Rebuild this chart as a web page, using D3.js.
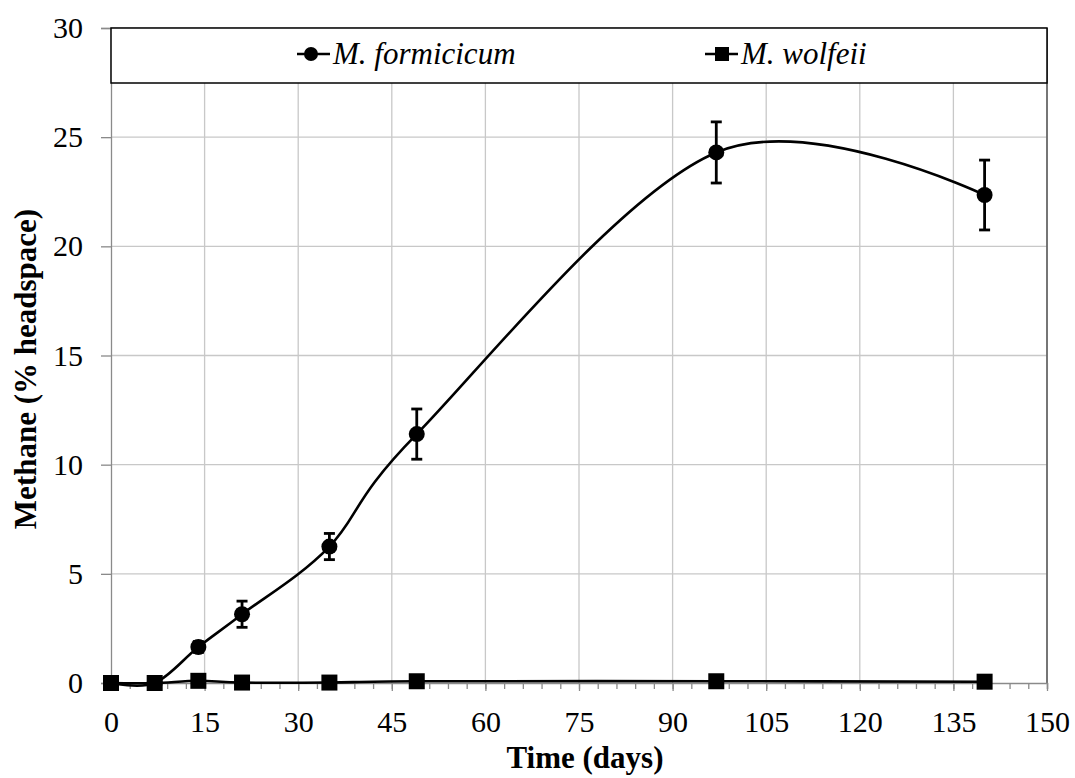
<!DOCTYPE html>
<html>
<head>
<meta charset="utf-8">
<script src="https://d3js.org/d3.v7.min.js"></script>
<style>
  body { margin: 0; background: #fff; }
</style>
</head>
<body>
<div id="chart"></div>
<script>
// ---- data ----
const days = [0, 7, 14, 21, 35, 49, 97, 140];
const formicicum = [0, 0, 1.65, 3.15, 6.25, 11.4, 24.3, 22.35];
const formicicumErr = [0, 0, 0.25, 0.6, 0.6, 1.15, 1.4, 1.6];
const wolfeii = [0, 0, 0.1, 0.02, 0.02, 0.08, 0.08, 0.06];
const xTicks = [0, 15, 30, 45, 60, 75, 90, 105, 120, 135, 150];
const yTicks = [0, 5, 10, 15, 20, 25, 30];
const seriesNames = ['M. formicicum', 'M. wolfeii'];

const FONT = 'Liberation Serif';
const W = 1075, H = 778;
const margin = { top: 28, right: 28, bottom: 95, left: 111 };

const svg = d3.select('#chart').append('svg')
  .attr('width', W).attr('height', H);

const x = d3.scaleLinear().domain([0, 150]).range([margin.left, W - margin.right]);
const y = d3.scaleLinear().domain([0, 30]).range([H - margin.bottom, margin.top]);

// grid
svg.append('g').selectAll('line')
  .data(xTicks.slice(1))
  .enter().append('line')
  .attr('x1', d => x(d)).attr('x2', d => x(d))
  .attr('y1', y(0)).attr('y2', y(30))
  .attr('stroke', '#c8c8c8').attr('stroke-width', 1.3);

svg.append('g').selectAll('line')
  .data(yTicks.slice(1))
  .enter().append('line')
  .attr('x1', x(0)).attr('x2', x(150))
  .attr('y1', d => y(d)).attr('y2', d => y(d))
  .attr('stroke', '#c8c8c8').attr('stroke-width', 1.3);

// right border of plot
svg.append('line')
  .attr('x1', x(150)).attr('x2', x(150))
  .attr('y1', y(0)).attr('y2', y(30))
  .attr('stroke', '#555').attr('stroke-width', 1.5);

// x axis: minor ticks every 3 days
const xAxis = svg.append('g')
  .attr('transform', `translate(0,${y(0)})`)
  .call(d3.axisBottom(x).tickValues(d3.range(0, 151, 3)).tickSize(6).tickFormat(''));
xAxis.selectAll('line').attr('stroke', '#8a8a8a').attr('stroke-width', 1.3);
xAxis.select('.domain').attr('stroke', '#8a8a8a').attr('stroke-width', 1.3);

const xLab = svg.append('g')
  .attr('transform', `translate(0,${y(0)})`)
  .call(d3.axisBottom(x).tickValues(xTicks).tickSize(8).tickPadding(20).tickFormat(d3.format('d')));
xLab.select('.domain').remove();
xLab.selectAll('line').attr('stroke', '#8a8a8a').attr('stroke-width', 1.3);
xLab.selectAll('text')
  .attr('font-family', FONT).attr('font-size', 30).attr('fill', '#000');

// y axis
const yAxis = svg.append('g')
  .attr('transform', `translate(${x(0)},0)`)
  .call(d3.axisLeft(y).tickValues(yTicks).tickSize(10).tickPadding(18).tickFormat(d3.format('d')));
yAxis.select('.domain').attr('stroke', '#8a8a8a').attr('stroke-width', 1.3);
yAxis.selectAll('line').attr('stroke', '#8a8a8a').attr('stroke-width', 1.3);
yAxis.selectAll('text')
  .attr('font-family', FONT).attr('font-size', 30).attr('fill', '#000');

// axis titles
svg.append('text')
  .attr('x', 585).attr('y', 768)
  .attr('text-anchor', 'middle')
  .attr('font-family', FONT).attr('font-size', 31).attr('font-weight', 'bold')
  .text('Time (days)');

svg.append('text')
  .attr('transform', 'translate(36,369) rotate(-90)')
  .attr('text-anchor', 'middle')
  .attr('font-family', FONT).attr('font-size', 31).attr('font-weight', 'bold')
  .text('Methane (% headspace)');

// lines (Excel-style smoothing)
const line = d3.line().curve(d3.curveCardinal.tension(0));
const ptsF = days.map((d, i) => [x(d), y(formicicum[i])]);
const ptsW = days.map((d, i) => [x(d), y(wolfeii[i])]);

svg.append('path').attr('d', line(ptsW))
  .attr('fill', 'none').attr('stroke', '#000').attr('stroke-width', 2.6);
svg.append('path').attr('d', line(ptsF))
  .attr('fill', 'none').attr('stroke', '#000').attr('stroke-width', 2.6);

// error bars
const eb = svg.append('g');
days.forEach((d, i) => {
  if (!formicicumErr[i]) return;
  const cx = x(d);
  const top = y(formicicum[i] + formicicumErr[i]);
  const bot = y(formicicum[i] - formicicumErr[i]);
  eb.append('line').attr('x1', cx).attr('x2', cx).attr('y1', top).attr('y2', bot)
    .attr('stroke', '#000').attr('stroke-width', 2.8);
  [top, bot].forEach(v => {
    eb.append('line').attr('x1', cx - 5.5).attr('x2', cx + 5.5).attr('y1', v).attr('y2', v)
      .attr('stroke', '#000').attr('stroke-width', 2.8);
  });
});

// markers
svg.append('g').selectAll('rect')
  .data(days)
  .enter().append('rect')
  .attr('x', d => x(d) - 8)
  .attr('y', (d, i) => y(wolfeii[i]) - 8)
  .attr('width', 16).attr('height', 16)
  .attr('fill', '#000');

svg.append('g').selectAll('circle')
  .data(days)
  .enter().append('circle')
  .attr('cx', d => x(d))
  .attr('cy', (d, i) => y(formicicum[i]))
  .attr('r', 8)
  .attr('fill', '#000');

// legend
const lg = svg.append('g');
lg.append('rect')
  .attr('x', x(0)).attr('y', y(30))
  .attr('width', x(150) - x(0)).attr('height', 55)
  .attr('fill', '#fff').attr('stroke', '#000').attr('stroke-width', 1.5);

const legendX = [297, 705];
seriesNames.forEach((name, i) => {
  const lx = legendX[i];
  const ly = 54;
  lg.append('line').attr('x1', lx).attr('x2', lx + 33).attr('y1', ly).attr('y2', ly)
    .attr('stroke', '#000').attr('stroke-width', 2.6);
  if (i === 0) {
    lg.append('circle').attr('cx', lx + 14).attr('cy', ly).attr('r', 7).attr('fill', '#000');
  } else {
    lg.append('rect').attr('x', lx + 10).attr('y', ly - 7).attr('width', 14).attr('height', 14).attr('fill', '#000');
  }
  lg.append('text')
    .attr('x', lx + 36).attr('y', 64)
    .attr('font-family', FONT).attr('font-size', 31).attr('font-style', 'italic')
    .text(name);
});
</script>
</body>
</html>
